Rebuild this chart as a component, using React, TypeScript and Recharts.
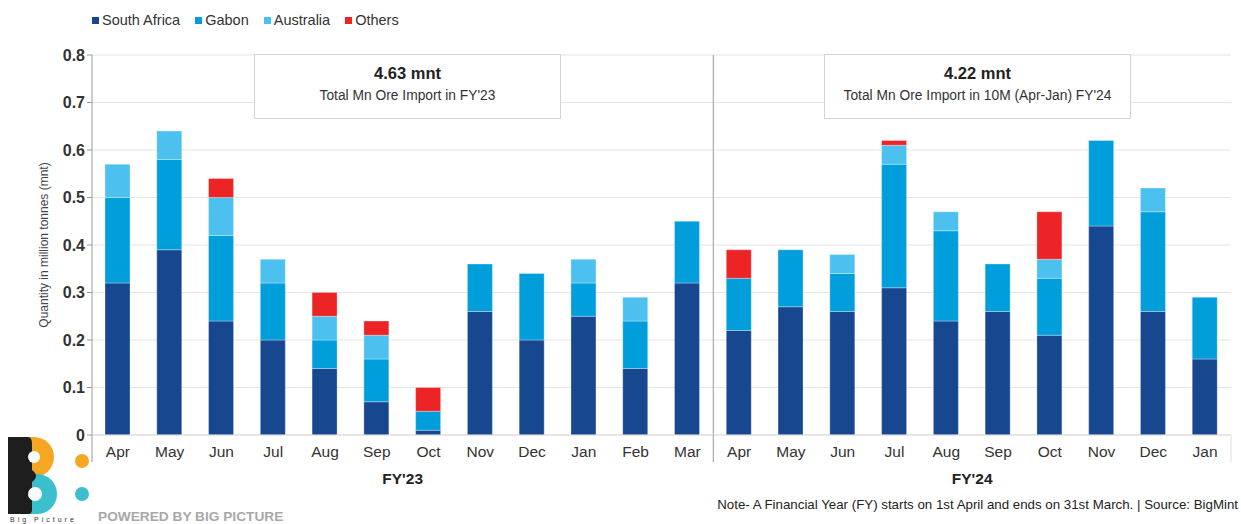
import React from "react";
import {
  BarChart,
  Bar,
  XAxis,
  YAxis,
  CartesianGrid,
  ReferenceLine,
} from "recharts";

const fyLabels = ["FY'23", "FY'24"];
const monthsFY23 = ["Apr", "May", "Jun", "Jul", "Aug", "Sep", "Oct", "Nov", "Dec", "Jan", "Feb", "Mar"];
const monthsFY24 = ["Apr", "May", "Jun", "Jul", "Aug", "Sep", "Oct", "Nov", "Dec", "Jan"];

const southAfrica = [0.32, 0.39, 0.24, 0.2, 0.14, 0.07, 0.01, 0.26, 0.2, 0.25, 0.14, 0.32, 0.22, 0.27, 0.26, 0.31, 0.24, 0.26, 0.21, 0.44, 0.26, 0.16];
const gabon = [0.18, 0.19, 0.18, 0.12, 0.06, 0.09, 0.04, 0.1, 0.14, 0.07, 0.1, 0.13, 0.11, 0.12, 0.08, 0.26, 0.19, 0.1, 0.12, 0.18, 0.21, 0.13];
const australia = [0.07, 0.06, 0.08, 0.05, 0.05, 0.05, 0, 0, 0, 0.05, 0.05, 0, 0, 0, 0.04, 0.04, 0.04, 0, 0.04, 0, 0.05, 0];
const others = [0, 0, 0.04, 0, 0.05, 0.03, 0.05, 0, 0, 0, 0, 0, 0.06, 0, 0, 0.01, 0, 0, 0.1, 0, 0, 0];

const yTicks = [0, 0.1, 0.2, 0.3, 0.4, 0.5, 0.6, 0.7, 0.8];

const totals = [
  { value: "4.63 mnt", label: "Total Mn Ore Import in FY'23" },
  { value: "4.22 mnt", label: "Total Mn Ore Import in 10M (Apr-Jan) FY'24" },
];

const series = [
  { key: "southAfrica", name: "South Africa", color: "#17488f" },
  { key: "gabon", name: "Gabon", color: "#009fdc" },
  { key: "australia", name: "Australia", color: "#4cc1f0" },
  { key: "others", name: "Others", color: "#ec2426" },
];

const months = [
  ...monthsFY23.map((m) => ({ fy: fyLabels[0], m })),
  ...monthsFY24.map((m) => ({ fy: fyLabels[1], m })),
];

const data = months.map((d, i) => ({
  key: `${d.fy}|${d.m}`,
  month: d.m,
  southAfrica: southAfrica[i],
  gabon: gabon[i],
  australia: australia[i],
  others: others[i],
}));

const FONT = "'Liberation Sans', Arial, Helvetica, sans-serif";
const W = 1241;
const H = 524;
const M = { top: 55, right: 10, left: 32, bottom: 59 };
const Y_AXIS_W = 60;
const plotLeft = M.left + Y_AXIS_W;
const plotRight = W - M.right;
const step = (plotRight - plotLeft) / data.length;
const firstOfFY24 = monthsFY23.length;

function MonthTick(props: any) {
  const { x, payload, index } = props;
  const label = String(payload.value).split("|")[1];
  const axisY = H - M.bottom - 30;
  const left = x - step / 2;
  const right = x + step / 2;
  return (
    <g>
      <text x={x} y={axisY + 22} textAnchor="middle" fontSize={15.5} fill="#333" fontFamily={FONT}>
        {label}
      </text>
      {index === 0 && <line x1={left} x2={left} y1={axisY} y2={axisY + 27} stroke="#9a9a9a" />}
      {index === firstOfFY24 && <line x1={left} x2={left} y1={axisY} y2={axisY + 27} stroke="#9a9a9a" />}
      {index === data.length - 1 && <line x1={right} x2={right} y1={axisY} y2={axisY + 27} stroke="#dcdcdc" />}
      {index === 6 && (
        <text x={left} y={axisY + 49} textAnchor="middle" fontSize={15.5} fontWeight="bold" fill="#222" fontFamily={FONT}>
          {fyLabels[0]}
        </text>
      )}
      {index === firstOfFY24 + 5 && (
        <text x={left} y={axisY + 49} textAnchor="middle" fontSize={15.5} fontWeight="bold" fill="#222" fontFamily={FONT}>
          {fyLabels[1]}
        </text>
      )}
    </g>
  );
}

function LegendBox() {
  return (
    <div
      style={{
        position: "absolute",
        left: 92,
        top: 12,
        display: "flex",
        gap: 15,
        fontFamily: FONT,
        fontSize: 14.5,
        color: "#333",
      }}
    >
      {series.map((s) => (
        <div key={s.key} style={{ display: "flex", alignItems: "center", gap: 3 }}>
          <span style={{ width: 7, height: 7, background: s.color, display: "inline-block" }} />
          <span>{s.name}</span>
        </div>
      ))}
    </div>
  );
}

function TotalBox({ left, value, label }: { left: number; value: string; label: string }) {
  return (
    <div
      style={{
        position: "absolute",
        left,
        top: 54,
        width: 307,
        height: 65,
        background: "#fff",
        border: "1px solid #d4d4d4",
        fontFamily: FONT,
        textAlign: "center",
        color: "#222",
        boxSizing: "border-box",
      }}
    >
      <div style={{ fontWeight: "bold", fontSize: 16.5, marginTop: 9 }}>{value}</div>
      <div style={{ fontSize: 13.8, marginTop: 5, color: "#333" }}>{label}</div>
    </div>
  );
}

function Logo() {
  return (
    <svg width={100} height={90} style={{ position: "absolute", left: 0, top: 434 }}>
      <path d="M14 3 H34 A20 20 0 0 1 34 43 H14 Z" fill="#f5a623" />
      <path d="M14 40 H37 A20 20 0 0 1 37 80 H14 Z" fill="#3bbfcc" />
      <path d="M8 3 H28 Q32 3 32 10 V36 Q40 42 32 48 V76 Q32 80 28 80 H8 Z" fill="#1e1e1e" />
      <circle cx={34} cy={23} r={6} fill="#fff" />
      <circle cx={35} cy={60} r={7} fill="#fff" />
      <circle cx={82} cy={27} r={7} fill="#f5a623" />
      <circle cx={82} cy={60} r={7} fill="#3bbfcc" />
      <text x={10} y={88} fontSize={7} letterSpacing={3} fill="#333" fontFamily={FONT}>
        Big Picture
      </text>
    </svg>
  );
}

export default function App() {
  return (
    <div style={{ position: "absolute", left: 0, top: 0, width: W, height: H, background: "#fff", overflow: "hidden" }}>
      <BarChart width={W} height={H} data={data} margin={M} barSize={25}>
        <CartesianGrid vertical={false} stroke="#e4e4e4" />
        <XAxis
          dataKey="key"
          interval={0}
          tickLine={false}
          axisLine={{ stroke: "#dcdcdc" }}
          height={30}
          tick={<MonthTick />}
        />
        <YAxis
          domain={[0, 0.8]}
          ticks={yTicks}
          width={Y_AXIS_W}
          axisLine={{ stroke: "#9a9a9a" }}
          tickLine={{ stroke: "#9a9a9a" }}
          tickSize={5}
          tick={{ fontSize: 16, fontWeight: "bold", fill: "#333", fontFamily: FONT }}
          label={{
            value: "Quantity in million tonnes (mnt)",
            angle: -90,
            position: "insideLeft",
            offset: 12,
            style: { textAnchor: "middle", fontSize: 12, fill: "#444", fontFamily: FONT },
          }}
        />
        <ReferenceLine x={data[firstOfFY24].key} position="start" stroke="#9a9a9a" />
        {series.map((s) => (
          <Bar
            key={s.key}
            dataKey={s.key}
            name={s.name}
            stackId="a"
            fill={s.color}
            stroke="rgba(255,255,255,0.5)"
            strokeWidth={0.6}
            isAnimationActive={false}
          />
        ))}
      </BarChart>
      <LegendBox />
      <TotalBox left={254} value={totals[0].value} label={totals[0].label} />
      <TotalBox left={824} value={totals[1].value} label={totals[1].label} />
      <Logo />
      <div
        style={{
          position: "absolute",
          left: 98,
          top: 509,
          fontFamily: FONT,
          fontWeight: "bold",
          fontSize: 13.7,
          color: "#a8a8a8",
        }}
      >
        POWERED BY BIG PICTURE
      </div>
      <div
        style={{
          position: "absolute",
          right: 3,
          top: 497,
          fontFamily: FONT,
          fontSize: 13.3,
          color: "#222",
        }}
      >
        Note- A Financial Year (FY) starts on 1st April and ends on 31st March. | Source: BigMint
      </div>
    </div>
  );
}
